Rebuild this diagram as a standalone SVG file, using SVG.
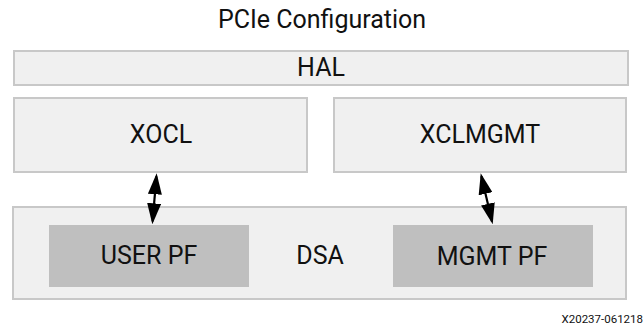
<svg xmlns="http://www.w3.org/2000/svg" width="644" height="326" viewBox="0 0 644 326">
  <defs>
    <style>
      .box { fill: #f0f0f0; stroke: #c8c8c8; stroke-width: 2; }
      .pf { fill: #bfbfbf; stroke: none; }
      .lbl { font-family: Roboto, "Liberation Sans", sans-serif; font-size: 25px; fill: #111; text-anchor: middle; }
      .note { font-family: Roboto, "Liberation Sans", sans-serif; font-size: 11.5px; fill: #111; text-anchor: end; }
      .conn { stroke: #000; stroke-width: 2.2; fill: none; marker-start: url(#head); marker-end: url(#head); }
    </style>
    <marker id="head" viewBox="0 0 21 14" markerWidth="21" markerHeight="14" markerUnits="userSpaceOnUse" refX="18" refY="7" orient="auto-start-reverse">
      <path d="M0,0 L21,7 L0,14 z" fill="#000"/>
    </marker>
  </defs>
  <rect width="644" height="326" fill="#fff"/>
  <text class="lbl" x="322" y="28">PCIe Configuration</text>
  <g id="hal">
    <rect class="box" x="14" y="51" width="614" height="34"/>
    <text class="lbl" x="321" y="76">HAL</text>
  </g>
  <g id="xocl">
    <rect class="box" x="14" y="98" width="293" height="74"/>
    <text class="lbl" x="161" y="143">XOCL</text>
  </g>
  <g id="xclmgmt">
    <rect class="box" x="334" y="98" width="292" height="74"/>
    <text class="lbl" x="480" y="143">XCLMGMT</text>
  </g>
  <g id="dsa">
    <rect class="box" x="13" y="207" width="613" height="92"/>
    <text class="lbl" x="320" y="264">DSA</text>
  </g>
  <g id="user-pf">
    <rect class="pf" x="49" y="225" width="200" height="62"/>
    <text class="lbl" x="149" y="264">USER PF</text>
  </g>
  <g id="mgmt-pf">
    <rect class="pf" x="393" y="225" width="200" height="62"/>
    <text class="lbl" x="492" y="265">MGMT PF</text>
  </g>
  <g id="connectors">
    <path class="conn" d="M156.4,176.3 L152.6,221.3"/>
    <path class="conn" d="M481.4,176.2 L492.0,221.4"/>
  </g>
  <text class="note" x="643" y="323">X20237-061218</text>
</svg>
